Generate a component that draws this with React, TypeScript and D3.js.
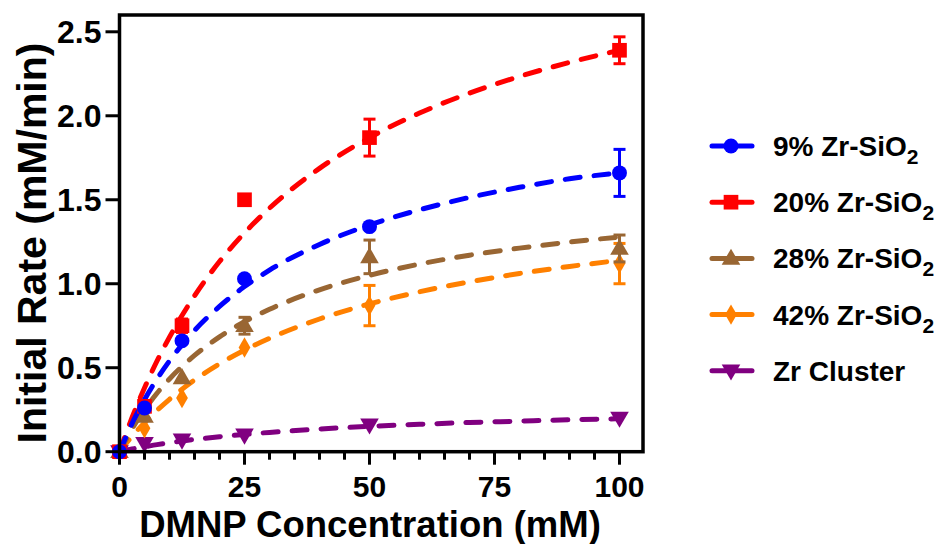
import React from "react";
import * as d3 from "d3";

const width = 938;
const height = 544;

// measured data points (DMNP mM vs initial rate mM/min)
const concentrations = [0, 5, 12.5, 25, 50, 100];
const series = ["9% Zr-SiO", "20% Zr-SiO", "28% Zr-SiO", "42% Zr-SiO", "Zr Cluster"];
const colors = ["#0000ff", "#ff0000", "#996633", "#ff8000", "#800080"];
const symbols = ["circle", "square", "triangle", "diamond", "triangleDown"];
const hasSub = [true, true, true, true, false];

const rate9 = [0, 0.26, 0.66, 1.03, 1.34, 1.66];
const rate20 = [0, 0.27, 0.75, 1.5, 1.87, 2.39];
const rate28 = [0, 0.21, 0.44, 0.75, 1.16, 1.21];
const rate42 = [0, 0.14, 0.32, 0.62, 0.87, 1.12];
const rateCluster = [0, 0.05, 0.07, 0.1, 0.16, 0.2];

// SD bars (bars shorter than the symbol are not shown)
const err9 = [0, 0, 0, 0, 0, 0.14];
const err20 = [0, 0, 0.04, 0, 0.11, 0.08];
const err28 = [0, 0, 0, 0.05, 0.1, 0.08];
const err42 = [0, 0, 0, 0, 0.12, 0.12];
const errCluster = [0, 0, 0, 0, 0, 0];

// fitted curves
const fitX = [0, 2.5, 5, 7.5, 10, 15, 20, 25, 30, 40, 50, 60, 70, 80, 90, 100];
const fit9 = [0, 0.167, 0.31, 0.433, 0.541, 0.722, 0.865, 0.983, 1.081, 1.234, 1.35, 1.44, 1.514, 1.574, 1.625, 1.66];
const fit20 = [0, 0.202, 0.38, 0.54, 0.682, 0.928, 1.132, 1.303, 1.45, 1.687, 1.87, 2.016, 2.135, 2.234, 2.318, 2.39];
const fit28 = [0, 0.135, 0.25, 0.348, 0.433, 0.573, 0.684, 0.774, 0.848, 0.964, 1.05, 1.117, 1.17, 1.212, 1.248, 1.278];
const fit42 = [0, 0.091, 0.173, 0.246, 0.312, 0.427, 0.523, 0.605, 0.675, 0.79, 0.88, 0.952, 1.011, 1.061, 1.103, 1.139];
const fitCluster = [0, 0.016, 0.029, 0.042, 0.053, 0.073, 0.089, 0.103, 0.115, 0.135, 0.151, 0.163, 0.174, 0.182, 0.19, 0.196];

const rates = [rate9, rate20, rate28, rate42, rateCluster];
const errs = [err9, err20, err28, err42, errCluster];
const fits = [fit9, fit20, fit28, fit42, fitCluster];

const yTicks = [0, 0.5, 1, 1.5, 2, 2.5];
const xMajor = [0, 25, 50, 75, 100];
const xMinor = d3.range(0, 101, 5);

const x = d3.scaleLinear().domain([0, 104.7]).range([119.5, 643]);
const y = d3.scaleLinear().domain([0, 2.6]).range([451.7, 15]);

const font = "'Liberation Sans', Arial, sans-serif";

function symbolPath(kind: string) {
  if (kind === "circle") return d3.symbol(d3.symbolCircle, 175)()!;
  if (kind === "square") return d3.symbol(d3.symbolSquare, 215)()!;
  if (kind === "diamond") return d3.symbol(d3.symbolDiamond, 120)()!;
  return d3.symbol(d3.symbolTriangle, 150)()!;
}

function Marker({ kind, color, cx, cy }: { kind: string; color: string; cx: number; cy: number }) {
  const rot = kind === "triangleDown" ? " rotate(180)" : "";
  const dy = kind === "triangle" ? 1 : kind === "triangleDown" ? -1 : 0;
  return <path d={symbolPath(kind)} transform={`translate(${cx},${cy + dy})${rot}`} fill={color} />;
}

export default function App() {
  const line = d3
    .line<number>()
    .x((_, i) => x(fitX[i]))
    .y((d) => y(d))
    .curve(d3.curveMonotoneX);

  const order = [4, 3, 2, 1, 0];

  return (
    <svg width={width} height={height} style={{ position: "absolute", left: 0, top: 0, background: "#fff" }}>
      {/* fit curves */}
      {order.map((s) => (
        <path
          key={"fit" + s}
          d={line(fits[s])!}
          fill="none"
          stroke={colors[s]}
          strokeWidth={5}
          strokeDasharray="15 14"
          strokeLinecap="round"
        />
      ))}

      {/* error bars + markers */}
      {order.map((s) => (
        <g key={"pts" + s}>
          {concentrations.map((c, i) =>
            errs[s][i] > 0 ? (
              <g key={i} stroke={colors[s]} strokeWidth={3}>
                <line x1={x(c)} x2={x(c)} y1={y(rates[s][i] - errs[s][i])} y2={y(rates[s][i] + errs[s][i])} />
                <line x1={x(c) - 6} x2={x(c) + 6} y1={y(rates[s][i] + errs[s][i])} y2={y(rates[s][i] + errs[s][i])} />
                <line x1={x(c) - 6} x2={x(c) + 6} y1={y(rates[s][i] - errs[s][i])} y2={y(rates[s][i] - errs[s][i])} />
              </g>
            ) : null
          )}
          {concentrations.map((c, i) => (
            <Marker key={"m" + i} kind={symbols[s]} color={colors[s]} cx={x(c)} cy={y(rates[s][i])} />
          ))}
        </g>
      ))}

      {/* frame */}
      <rect x={x(0)} y={y(2.6)} width={x(104.7) - x(0)} height={y(0) - y(2.6)} fill="none" stroke="#000" strokeWidth={3.5} />

      {/* y axis */}
      {yTicks.map((t) => (
        <g key={"y" + t}>
          <line x1={x(0) - 14} x2={x(0)} y1={y(t)} y2={y(t)} stroke="#000" strokeWidth={3} />
          <text x={x(0) - 18} y={y(t) + 11} textAnchor="end" fontFamily={font} fontWeight="bold" fontSize={32}>
            {d3.format(".1f")(t)}
          </text>
        </g>
      ))}

      {/* x axis */}
      {xMinor.map((t) => (
        <line
          key={"xt" + t}
          x1={x(t)}
          x2={x(t)}
          y1={y(0)}
          y2={y(0) + (xMajor.includes(t) ? 13 : 8)}
          stroke="#000"
          strokeWidth={3}
        />
      ))}
      {xMajor.map((t) => (
        <text key={"xl" + t} x={x(t)} y={497} textAnchor="middle" fontFamily={font} fontWeight="bold" fontSize={30}>
          {t}
        </text>
      ))}

      <text x={370} y={537} textAnchor="middle" fontFamily={font} fontWeight="bold" fontSize={36.5}>
        DMNP Concentration (mM)
      </text>
      <text
        transform={`translate(46,243) rotate(-90)`}
        textAnchor="middle"
        fontFamily={font}
        fontWeight="bold"
        fontSize={41}
      >
        Initial Rate (mM/min)
      </text>

      {/* legend */}
      {series.map((name, s) => {
        const cy = 146 + s * 56.2;
        return (
          <g key={"lg" + s}>
            <line x1={712} x2={752} y1={cy} y2={cy} stroke={colors[s]} strokeWidth={5} strokeLinecap="round" />
            <Marker kind={symbols[s]} color={colors[s]} cx={731} cy={cy} />
            <text x={773} y={cy + 10} fontFamily={font} fontWeight="bold" fontSize={28}>
              {name}
              {hasSub[s] ? (
                <tspan fontSize={21} dy={8}>
                  2
                </tspan>
              ) : null}
            </text>
          </g>
        );
      })}
    </svg>
  );
}
